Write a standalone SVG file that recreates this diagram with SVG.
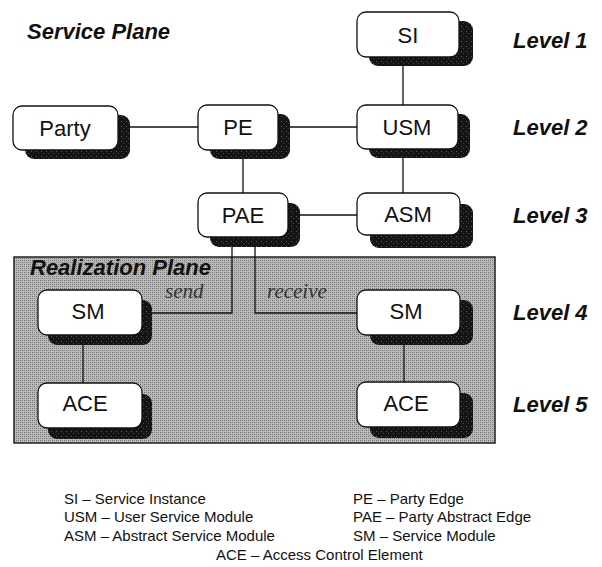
<svg xmlns="http://www.w3.org/2000/svg" width="602" height="567" viewBox="0 0 602 567">
<defs>
<pattern id="halftone" width="4" height="4" patternUnits="userSpaceOnUse">
<rect width="4" height="4" fill="#bababa"/>
<rect x="0" y="0" width="1" height="1" fill="#6e6e6e"/>
<rect x="2" y="2" width="1" height="1" fill="#6e6e6e"/>
<rect x="2" y="0" width="1" height="1" fill="#8c8c8c"/>
<rect x="0" y="2" width="1" height="1" fill="#8c8c8c"/>
</pattern>
<pattern id="shadowtex" width="5" height="5" patternUnits="userSpaceOnUse">
<rect width="5" height="5" fill="#141414"/>
<rect x="1" y="1" width="1" height="1" fill="#5a5a5a"/>
<rect x="3" y="3" width="1" height="1" fill="#444"/>
</pattern>
</defs>
<style>
.box{fill:#fff;stroke:#111;stroke-width:1.3}
.shadow{fill:url(#shadowtex)}
.lbl{font-family:"Liberation Sans",Arial,sans-serif;font-size:22px;fill:#111;text-anchor:middle}
.title{font-family:"Liberation Sans",Arial,sans-serif;font-size:22px;font-weight:bold;font-style:italic;fill:#111}
.lvl{font-family:"Liberation Sans",Arial,sans-serif;font-size:22px;font-weight:bold;font-style:italic;fill:#111}
.edge{font-family:"Liberation Serif","Times New Roman",serif;font-size:21px;font-style:italic;fill:#333}
.leg{font-family:"Liberation Sans",Arial,sans-serif;font-size:15px;fill:#111}
.conn{stroke:#111;stroke-width:1.3;fill:none}
</style>
<rect x="0" y="0" width="602" height="567" fill="#fff"/>
<g id="realization-plane">
<rect x="14" y="257" width="481" height="186" fill="url(#halftone)" stroke="#222" stroke-width="1.5"/>
</g>
<text class="title" x="27" y="39">Service Plane</text>
<text class="title" x="30" y="275">Realization Plane</text>
<g id="connectors">
<line class="conn" x1="403" y1="65" x2="403" y2="105"/>
<line class="conn" x1="130" y1="127" x2="198" y2="127"/>
<line class="conn" x1="290" y1="127" x2="357" y2="127"/>
<line class="conn" x1="243" y1="158" x2="243" y2="193"/>
<line class="conn" x1="403" y1="157" x2="403" y2="193"/>
<line class="conn" x1="300" y1="215" x2="357" y2="215"/>
<polyline class="conn" points="232,246 232,313 152,313"/>
<polyline class="conn" points="255,246 255,313 357,313"/>
<line class="conn" x1="83" y1="344" x2="83" y2="383"/>
<line class="conn" x1="404" y1="344" x2="404" y2="382"/>
<text class="edge" x="165" y="298">send</text>
<text class="edge" x="267" y="298">receive</text>
</g>
<g id="SI">
<rect class="shadow" x="369" y="21" width="104" height="45" rx="9"/>
<rect class="box" x="357" y="12" width="102" height="45" rx="9"/>
<text class="lbl" x="408" y="43">SI</text>
</g>
<g id="Party">
<rect class="shadow" x="25" y="115" width="105" height="44" rx="9"/>
<rect class="box" x="13" y="106" width="105" height="44" rx="9"/>
<text class="lbl" x="65" y="136">Party</text>
</g>
<g id="PE">
<rect class="shadow" x="210" y="114" width="80" height="45" rx="9"/>
<rect class="box" x="198" y="105" width="80" height="45" rx="9"/>
<text class="lbl" x="238" y="135">PE</text>
</g>
<g id="USM">
<rect class="shadow" x="369" y="114" width="101" height="44" rx="9"/>
<rect class="box" x="357" y="105" width="101" height="44" rx="9"/>
<text class="lbl" x="407" y="135">USM</text>
</g>
<g id="PAE">
<rect class="shadow" x="210" y="203" width="90" height="44" rx="9"/>
<rect class="box" x="198" y="193" width="90" height="44" rx="9"/>
<text class="lbl" x="243" y="223">PAE</text>
</g>
<g id="ASM">
<rect class="shadow" x="370" y="204" width="103" height="44" rx="9"/>
<rect class="box" x="357" y="193" width="103" height="42" rx="9"/>
<text class="lbl" x="408" y="222">ASM</text>
</g>
<g id="SM-left">
<rect class="shadow" x="48" y="300" width="104" height="45" rx="9"/>
<rect class="box" x="38" y="290" width="104" height="45" rx="9"/>
<text class="lbl" x="88" y="319">SM</text>
</g>
<g id="SM-right">
<rect class="shadow" x="370" y="300" width="103" height="45" rx="9"/>
<rect class="box" x="357" y="290" width="103" height="45" rx="9"/>
<text class="lbl" x="406" y="319">SM</text>
</g>
<g id="ACE-left">
<rect class="shadow" x="48" y="394" width="104" height="45" rx="9"/>
<rect class="box" x="38" y="383" width="104" height="45" rx="9"/>
<text class="lbl" x="85" y="411">ACE</text>
</g>
<g id="ACE-right">
<rect class="shadow" x="370" y="393" width="103" height="45" rx="9"/>
<rect class="box" x="357" y="382" width="103" height="45" rx="9"/>
<text class="lbl" x="406" y="411">ACE</text>
</g>
<g id="levels">
<text class="lvl" x="513" y="48">Level 1</text>
<text class="lvl" x="513" y="135">Level 2</text>
<text class="lvl" x="513" y="223">Level 3</text>
<text class="lvl" x="513" y="320">Level 4</text>
<text class="lvl" x="513" y="412">Level 5</text>
</g>
<g id="legend">
<text class="leg" x="64" y="504">SI – Service Instance</text>
<text class="leg" x="64" y="522">USM – User Service Module</text>
<text class="leg" x="64" y="541">ASM – Abstract Service Module</text>
<text class="leg" x="353" y="504">PE – Party Edge</text>
<text class="leg" x="353" y="522">PAE – Party Abstract Edge</text>
<text class="leg" x="353" y="541">SM – Service Module</text>
<text class="leg" x="216" y="560">ACE – Access Control Element</text>
</g>
</svg>
